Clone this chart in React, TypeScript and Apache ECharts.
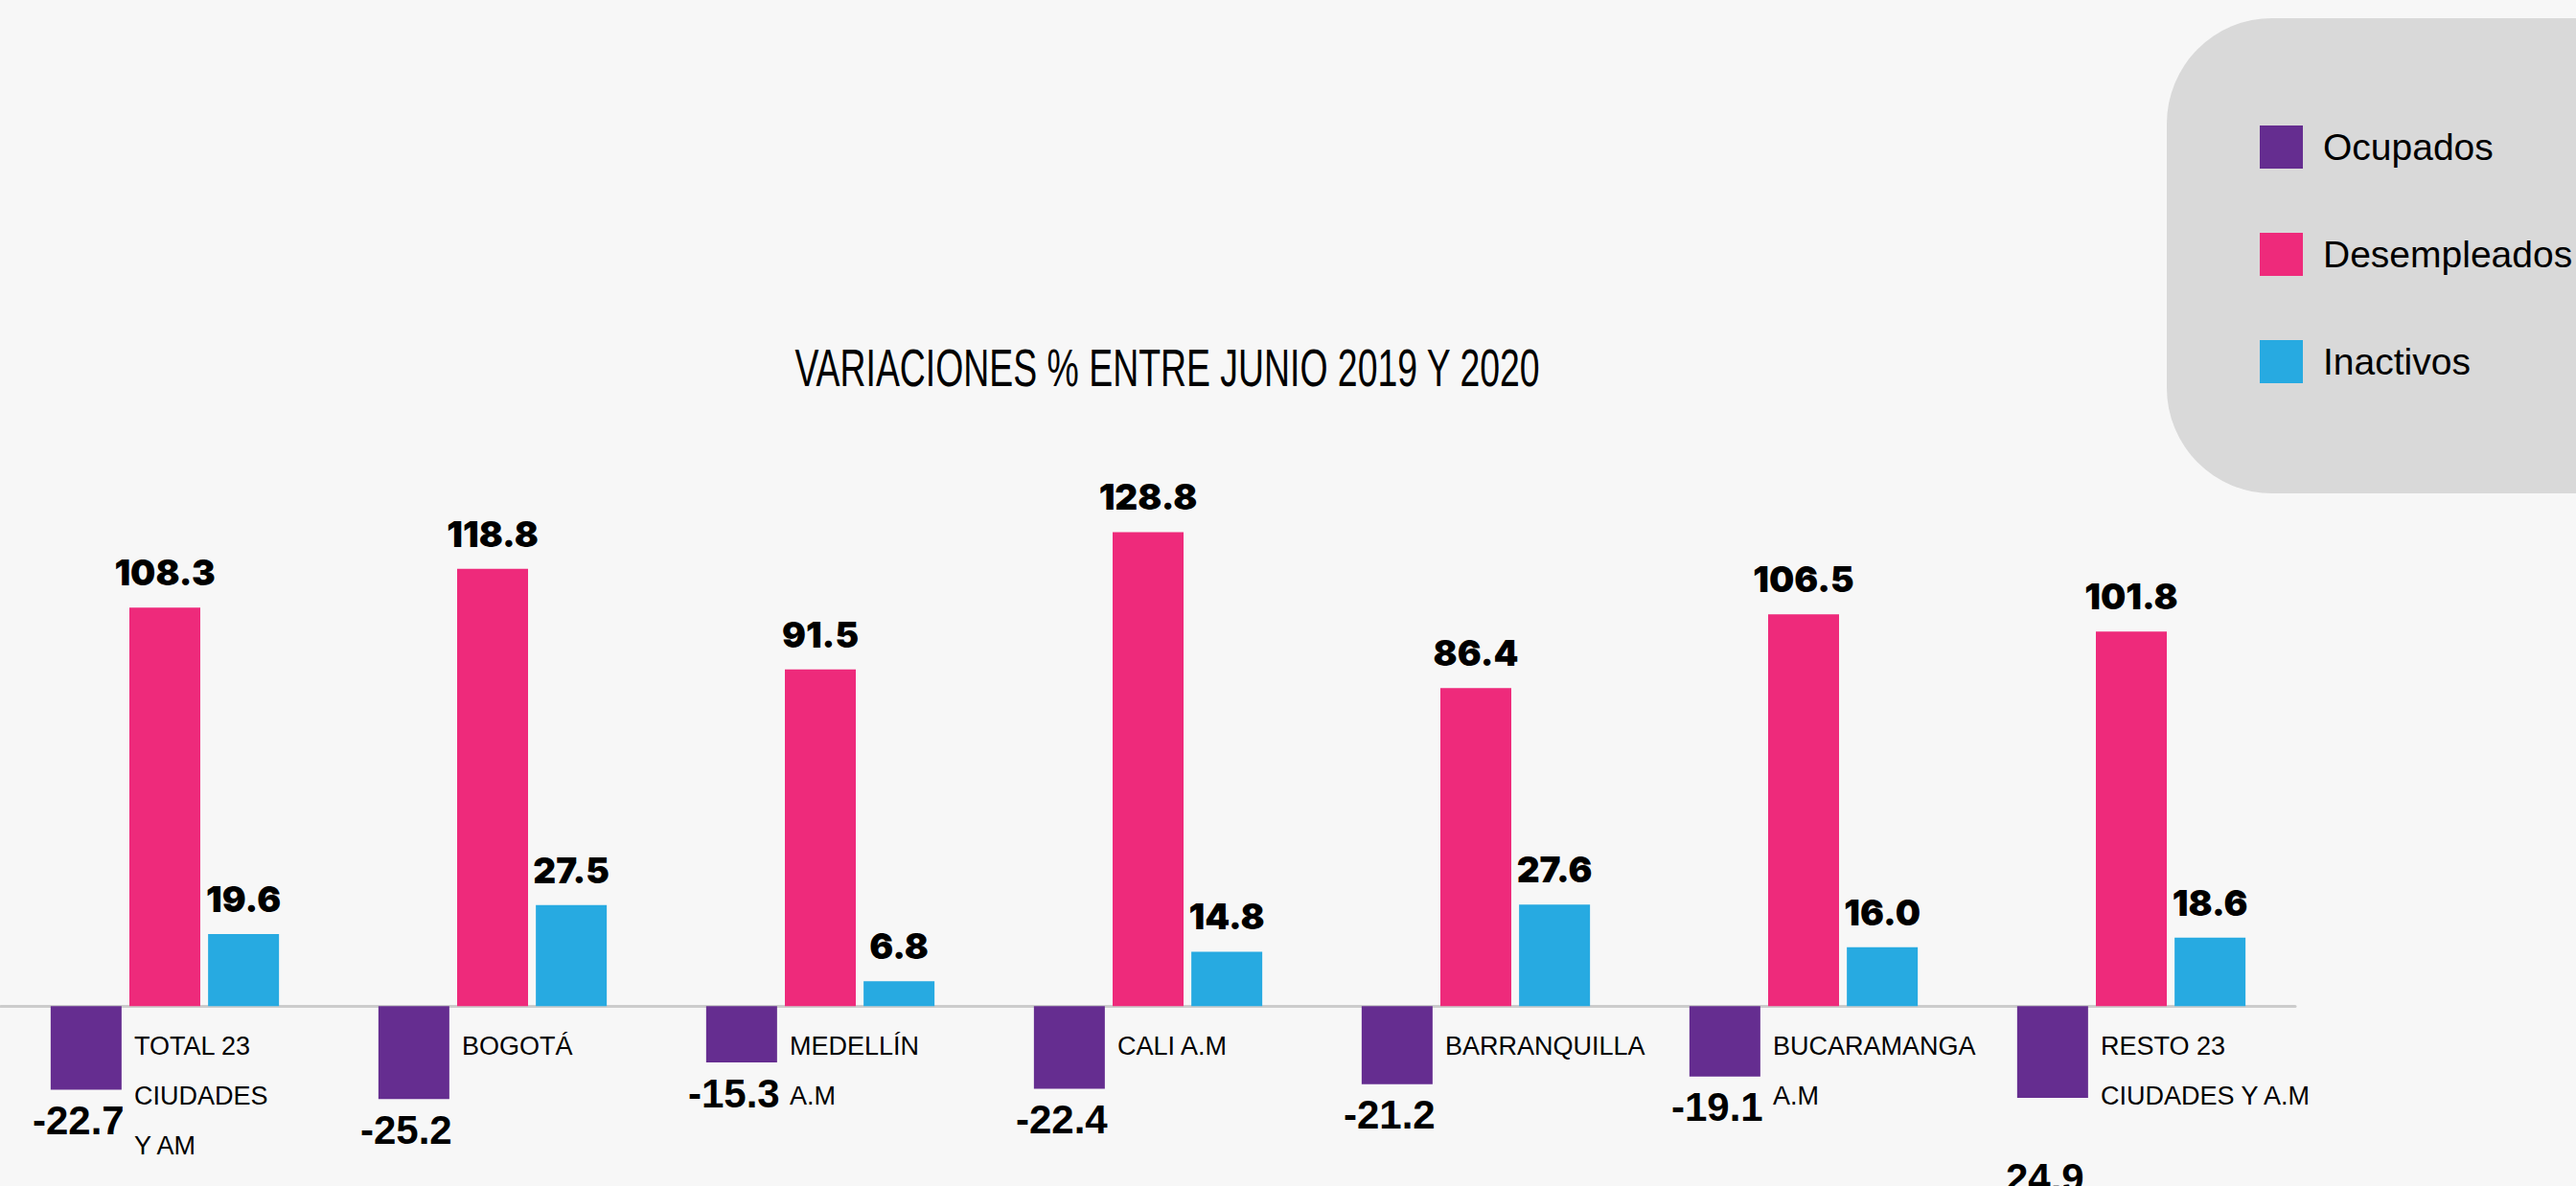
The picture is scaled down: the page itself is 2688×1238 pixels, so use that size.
import React, { useEffect, useRef } from "react";
import * as echarts from "echarts";

const categories = [
  "TOTAL 23\nCIUDADES\nY AM",
  "BOGOTÁ",
  "MEDELLÍN\nA.M",
  "CALI A.M",
  "BARRANQUILLA",
  "BUCARAMANGA\nA.M",
  "RESTO 23\nCIUDADES Y A.M",
];
const seriesNames = ["Ocupados", "Desempleados", "Inactivos"];
const ocupados = [-22.7, -25.2, -15.3, -22.4, -21.2, -19.1, -24.9];
const desempleados = [108.3, 118.8, 91.5, 128.8, 86.4, 106.5, 101.8];
const inactivos = [19.6, 27.5, 6.8, 14.8, 27.6, 16.0, 18.6];
const colors = ["#652D90", "#EE2A7B", "#27AAE1"];
const titleText = "VARIACIONES % ENTRE JUNIO 2019 Y 2020";

const Y_MIN = -40;
const Y_MAX = 150;
const GRID_TOP = 474;
const GRID_BOTTOM = 34;
const CHART_H = 1238;

export default function App() {
  const ref = useRef<HTMLDivElement>(null);
  useEffect(() => {
    if (!ref.current) return;
    const chart = echarts.init(ref.current, null, { renderer: "svg" });
    const last = ocupados.length - 1;
    // distance from grid bottom up to the zero line
    const gridH = CHART_H - GRID_TOP - GRID_BOTTOM;
    const zeroOffset = (-Y_MIN / (Y_MAX - Y_MIN)) * gridH;
    const topLabel = {
      show: true,
      position: "top",
      distance: 18,
      fontFamily: "Inter",
      fontWeight: 900,
      fontSize: 37,
      color: "#000",
      formatter: (p: any) => Number(p.value).toFixed(1),
    };
    chart.setOption({
      animation: false,
      backgroundColor: "#f7f7f7",
      graphic: [
        {
          type: "rect",
          z: 0,
          shape: { x: 2261, y: 19, width: 600, height: 496, r: 110 },
          style: { fill: "#d9d9d9" },
        },
        {
          type: "text",
          z: 5,
          x: 1218,
          y: 384,
          scaleX: 0.68,
          style: {
            text: titleText,
            fontFamily: "Liberation Sans",
            fontSize: 55,
            fill: "#000",
            align: "center",
            verticalAlign: "middle",
          },
        },
      ],
      legend: {
        z: 10,
        data: seriesNames,
        orient: "vertical",
        left: 2358,
        top: 131,
        padding: 0,
        itemWidth: 45,
        itemHeight: 45,
        itemGap: 67,
        icon: "rect",
        textStyle: {
          fontFamily: "Liberation Sans",
          fontSize: 39,
          lineHeight: 45,
          color: "#000",
          padding: [0, 0, 0, 16],
        },
      },
      grid: {
        left: 1,
        right: 293,
        top: GRID_TOP,
        bottom: GRID_BOTTOM,
        containLabel: false,
        outerBoundsMode: "none",
      },
      xAxis: {
        type: "category",
        data: categories,
        position: "bottom",
        offset: -zeroOffset,
        axisLine: { show: true, onZero: false, lineStyle: { color: "#cccccc", width: 3 } },
        axisTick: { show: false },
        axisLabel: {
          interval: 0,
          align: "left",
          verticalAlign: "top",
          margin: 16,
          padding: [0, 0, 0, -32],
          fontFamily: "Liberation Sans",
          fontSize: 27,
          lineHeight: 52,
          color: "#000",
        },
      },
      yAxis: {
        type: "value",
        min: Y_MIN,
        max: Y_MAX,
        show: false,
        splitLine: { show: false },
      },
      series: [
        {
          name: seriesNames[0],
          type: "bar",
          barWidth: 74,
          barGap: "11%",
          itemStyle: { color: colors[0] },
          data: ocupados.map((v, i) =>
            i === last ? { value: v, label: { distance: 63 } } : v
          ),
          label: {
            show: true,
            position: "bottom",
            distance: 11,
            offset: [-8, 0],
            fontFamily: "Liberation Sans",
            fontWeight: "bold",
            fontSize: 42,
            color: "#000",
            formatter: (p: any) =>
              p.dataIndex === last
                ? Math.abs(Number(p.value)).toFixed(1)
                : Number(p.value).toFixed(1),
          },
        },
        {
          name: seriesNames[1],
          type: "bar",
          barWidth: 74,
          barGap: "11%",
          itemStyle: { color: colors[1] },
          data: desempleados,
          label: topLabel,
        },
        {
          name: seriesNames[2],
          type: "bar",
          barWidth: 74,
          barGap: "11%",
          itemStyle: { color: colors[2] },
          data: inactivos,
          label: topLabel,
        },
      ],
    });
    return () => chart.dispose();
  }, []);
  return (
    <div
      ref={ref}
      style={{ position: "fixed", left: 0, top: 0, width: 2688, height: CHART_H }}
    />
  );
}
